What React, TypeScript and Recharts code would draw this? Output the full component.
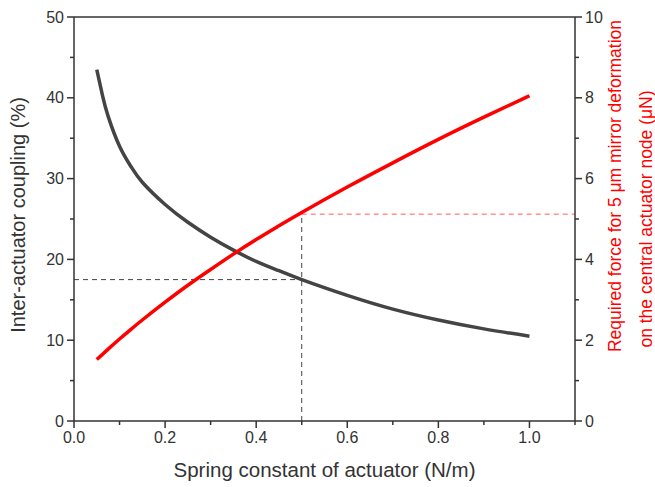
import { ComposedChart, Line, XAxis, YAxis, ReferenceLine } from 'recharts';

const springK = [0.05, 0.0625, 0.075, 0.1, 0.125, 0.15, 0.2, 0.25, 0.3, 0.35, 0.4, 0.45, 0.5, 0.6, 0.7, 0.8, 0.9, 1.0];
const coupling = [43.5, 40.3, 37.7, 34.0, 31.5, 29.55, 26.8, 24.6, 22.75, 21.15, 19.75, 18.6, 17.5, 15.55, 13.85, 12.5, 11.4, 10.5];
const force = [1.52, 1.65, 1.78, 2.03, 2.27, 2.5, 2.94, 3.36, 3.75, 4.13, 4.49, 4.83, 5.16, 5.79, 6.39, 6.97, 7.52, 8.05];

const xTicks = [0, 0.1, 0.2, 0.3, 0.4, 0.5, 0.6, 0.7, 0.8, 0.9, 1.0, 1.1];
const leftTicks = [0, 5, 10, 15, 20, 25, 30, 35, 40, 45, 50];
const rightTicks = [0, 1, 2, 3, 4, 5, 6, 7, 8, 9, 10];

// guide lines: chosen spring constant and the values read at it
const markK = 0.5;
const markCoupling = 17.5;
const markForce = 5.12;

const data = springK.map((k, i) => ({ k, coupling: coupling[i], force: force[i] }));

const AXIS = '#333';
const FONT = '"Liberation Sans", Arial, sans-serif';

function XTick({ x, y, payload }: any) {
  const v = payload.value;
  const major = Math.round(v * 10) % 2 === 0 && v <= 1.0001;
  return (
    <g>
      <line x1={x} x2={x} y1={y} y2={y + (major ? 7 : 4)} stroke={AXIS} strokeWidth={1.5} />
      {major && (
        <text x={x} y={y + 22} textAnchor="middle" fontSize={16} fill="#333" fontFamily={FONT}>
          {v.toFixed(1)}
        </text>
      )}
    </g>
  );
}

function LeftTick({ x, y, payload }: any) {
  const major = payload.value % 10 === 0;
  return (
    <g>
      <line x1={x - (major ? 7 : 4)} x2={x} y1={y} y2={y} stroke={AXIS} strokeWidth={1.5} />
      {major && (
        <text x={x - 10} y={y} dy="0.35em" textAnchor="end" fontSize={16} fill="#333" fontFamily={FONT}>
          {payload.value}
        </text>
      )}
    </g>
  );
}

function RightTick({ x, y, payload }: any) {
  const major = payload.value % 2 === 0;
  return (
    <g>
      <line x1={x} x2={x + (major ? 7 : 4)} y1={y} y2={y} stroke={AXIS} strokeWidth={1.5} />
      {major && (
        <text x={x + 10} y={y} dy="0.35em" textAnchor="start" fontSize={16} fill="#333" fontFamily={FONT}>
          {payload.value}
        </text>
      )}
    </g>
  );
}

function RightTitle({ viewBox }: any) {
  const { x, y, height } = viewBox;
  const x1 = x + 40;
  const x2 = x + 71;
  const c1 = y + height / 2 - 33;
  const c2 = y + height / 2;
  return (
    <g fill="#ff0000" fontSize={17.5} fontFamily={FONT}>
      <text x={x1} y={c1} textAnchor="middle" dominantBaseline="central" transform={`rotate(-90 ${x1} ${c1})`}>
        Required force for 5 μm mirror deformation
      </text>
      <text x={x2} y={c2} textAnchor="middle" dominantBaseline="central" transform={`rotate(-90 ${x2} ${c2})`}>
        on the central actuator node (μN)
      </text>
    </g>
  );
}

function LeftTitle({ viewBox }: any) {
  const { y, height } = viewBox;
  const cx = 18;
  const cy = y + height / 2 - 4;
  return (
    <text x={cx} y={cy} textAnchor="middle" dominantBaseline="central" fontSize={20} fill="#333" fontFamily={FONT} transform={`rotate(-90 ${cx} ${cy})`}>
      Inter-actuator coupling (%)
    </text>
  );
}

export default function App() {
  return (
    <div style={{ position: 'absolute', left: 0, top: 0, background: '#fff' }}>
      <ComposedChart width={655} height={487} data={data} margin={{ top: 17, right: 0, left: 0, bottom: 0 }}>
        <XAxis
          dataKey="k"
          type="number"
          domain={[0, 1.1]}
          ticks={xTicks}
          interval={0}
          tick={<XTick />}
          tickLine={false}
          tickSize={0}
          tickMargin={0}
          height={66}
          stroke={AXIS}
          strokeWidth={1.5}
          label={{ value: 'Spring constant of actuator (N/m)', position: 'insideBottom', offset: 10, fontSize: 20.5, fill: '#333', fontFamily: FONT }}
        />
        <YAxis
          yAxisId="left"
          domain={[0, 50]}
          ticks={leftTicks}
          interval={0}
          tick={<LeftTick />}
          tickLine={false}
          tickSize={0}
          tickMargin={0}
          width={74}
          stroke={AXIS}
          strokeWidth={1.5}
          label={<LeftTitle />}
        />
        <YAxis
          yAxisId="right"
          orientation="right"
          domain={[0, 10]}
          ticks={rightTicks}
          interval={0}
          tick={<RightTick />}
          tickLine={false}
          tickSize={0}
          tickMargin={0}
          width={80}
          stroke={AXIS}
          strokeWidth={1.5}
          label={<RightTitle />}
        />
        <ReferenceLine yAxisId="left" y={50} stroke={AXIS} strokeWidth={1.5} />
        <ReferenceLine
          yAxisId="left"
          segment={[{ x: 0, y: markCoupling }, { x: markK, y: markCoupling }]}
          stroke="#444"
          strokeDasharray="5 4"
          strokeWidth={1}
        />
        <ReferenceLine
          yAxisId="right"
          segment={[{ x: markK, y: 0 }, { x: markK, y: markForce }]}
          stroke="#444"
          strokeDasharray="5 4"
          strokeWidth={1}
        />
        <ReferenceLine
          yAxisId="right"
          segment={[{ x: markK, y: markForce }, { x: 1.1, y: markForce }]}
          stroke="#ff5a5a"
          strokeDasharray="5 4"
          strokeWidth={1}
        />
        <Line yAxisId="left" type="natural" dataKey="coupling" stroke="#444" strokeWidth={3.5} dot={false} isAnimationActive={false} />
        <Line yAxisId="right" type="natural" dataKey="force" stroke="#ff0000" strokeWidth={3.5} dot={false} isAnimationActive={false} />
      </ComposedChart>
    </div>
  );
}
